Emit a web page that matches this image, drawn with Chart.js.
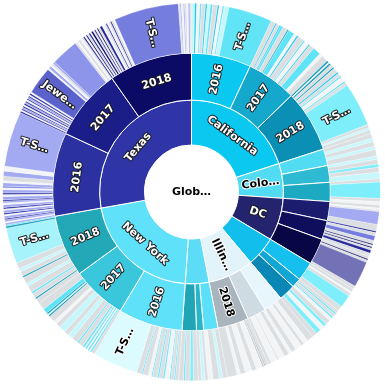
<!DOCTYPE html>
<html>
<head>
<meta charset="utf-8">
<script src="https://cdn.jsdelivr.net/npm/chart.js@4.4.0/dist/chart.umd.min.js"></script>
<style>
    html, body { margin: 0; padding: 0; background: #fff; }
    #wrap { width: 385px; height: 388px; }
</style>
</head>
<body>
<div id="wrap"><canvas id="sunburst"></canvas></div>
<script>
// Labels as they appear in the chart (long names are cut by the chart)
const rootName = 'Glob…';
const stateNames = ['California', 'Colo…', 'DC', '', 'Illin…', '', 'New York', 'Texas'];
const yearNames = ['2016', '2017', '2018'];

// Product sales per state, one list per year, clockwise from 12 o'clock
const californiaSales = [
    [1, 0.6, 1, 0.5, 1.2, 0.5, 1, 0.7, 1.5, 0.5, 1, 0.5, 1.5, 13.5],
    [1.5, 0.4, 1, 0.4, 0.8, 1.5, 0.4, 2, 1, 0.5, 2, 0.5, 1.5, 0.4, 1.5, 2.5, 1, 2.1],
    [0.6, 0.4, 0.6, 1, 0.5, 1.5, 0.5, 1, 0.5, 1.5, 0.5, 1, 13.5, 1, 0.7, 1.2]
];
const coloradoSales = [
    [1.5, 1, 1.5, 1, 2],
    [1, 1.5, 1, 1.5, 2],
    [1, 5, 1, 1]
];
const dcSales = [
    [1, 0.5, 0.5, 4, 2],
    [0.5, 1, 1.5, 1, 0.4, 0.6, 0.4, 0.6, 1, 1],
    [0.8, 0.4, 0.8, 8, 1]
];
const fourthStateSales = [
    [1, 0.5, 1, 4, 1.5],
    [1, 0.5, 1, 0.5, 1],
    [1.5, 1, 1.5, 1.5, 1.5]
];
const illinoisSales = [
    [2, 1.5, 1, 2, 1.5],
    [1, 1.5, 2, 0.5, 2, 1],
    [1, 0.3, 0.3, 0.3, 2, 1.5, 2, 1.6, 1, 3]
];
const sixthStateSales = [
    [1.5, 1, 2, 1.5],
    [1, 1, 1],
    [1.5, 1, 1.5, 0.5, 1.5]
];
const newYorkSales = [
    [1, 0.4, 1, 0.4, 1.5, 0.5, 1.2, 0.5, 1.5, 0.4, 1, 1.6, 0.4, 1.6, 14],
    [1, 0.5, 0.4, 0.5, 0.4, 0.5, 0.4, 0.6, 1.5, 0.5, 2, 1.5, 1.5, 2, 1.5, 1, 2, 0.5, 0.4, 0.5, 1.5, 2.3],
    [1.5, 0.5, 1.5, 0.6, 2, 1, 2, 0.5, 1.5, 1, 1.9, 11, 0.6, 0.4]
];
const texasSales = [
    [0.6, 0.4, 0.6, 0.4, 0.8, 0.4, 0.5, 0.8, 0.4, 0.5, 0.8, 0.5, 0.6, 0.4, 1, 0.6, 0.5, 1, 0.6, 0.5, 1, 0.6, 1.4, 1.6, 1.5, 17],
    [0.5, 0.4, 0.4, 0.5, 0.4, 0.4, 0.5, 0.4, 0.4, 0.5, 0.4, 0.5, 0.4, 0.4, 0.5, 0.5, 8.5, 0.5, 0.8, 0.5, 0.6, 0.6, 8.5, 0.6, 0.5, 0.8, 0.6, 0.5],
    [0.5, 0.5, 0.4, 0.6, 0.5, 0.4, 0.6, 0.5, 0.4, 0.5, 0.4, 0.6, 0.8, 0.7, 0.6, 0.4, 0.6, 0.5, 0.4, 0.6, 0.5, 20, 0.5, 0.4, 0.6, 0.4, 0.6, 0.5, 0.5, 0.5]
];
const salesByState = [californiaSales, coloradoSales, dcSales, fourthStateSales,
    illinoisSales, sixthStateSales, newYorkSales, texasSales];

// Named product slices: [state, year, product, label]
const productLabels = [
    [0, 0, 13, 'T-S…'],
    [0, 2, 12, 'T-S…'],
    [6, 0, 14, 'T-S…'],
    [6, 2, 11, 'T-S…'],
    [7, 0, 25, 'T-S…'],
    [7, 1, 16, 'Jewe…'],
    [7, 2, 21, 'T-S…']
];

// ---- styles ----
const stateColors = ['#0ac8f0', '#52dcf4', '#24246e', '#12bfec', '#e2f3fa', '#5cdcf6', '#5fe1fa', '#2f35a6'];
const yearColors = [
    ['#0ac8f0', '#13a8cc', '#0c8fb5'],
    ['#52dcf4', '#2dbad2', '#1da9c2'],
    ['#1c1c6e', '#0e0e5c', '#070746'],
    ['#15c0ee', '#11a6d6', '#0a87b4'],
    ['#e6f6fc', '#cfdbe2', '#a9b4bc'],
    ['#5cdff8', '#2ab6c8', '#1fa5b6'],
    ['#5fe1fa', '#3ac7dc', '#23a8b8'],
    ['#2b31a0', '#1b1d88', '#0b0b66']
];
const tones = {
    G: '#dcdfe2', W: '#f2f4f6', D: '#8f999f',
    L: '#a3aaf2', E: '#8d95ea', M: '#757ddd', J: '#5b62cb', V: '#7472b6', N: '#272b9c', K: '#0d0d62',
    C: '#5ee3f7', B: '#17c5ee', T: '#1a9fba', A: '#7eeefa', P: '#c6f7fc', Q: '#dcfbfe', R: '#a6f3fb', S: '#62e4f7'
};
const productTones = [
    ['PBWCGBPCGBWCPS', 'GBGBCGTCWBGCWBGCWG', 'TWTGTGBGCWCGAGPG'],
    ['GPGPG', 'PGAGP', 'GAGW'],
    ['GWGLG', 'NGMGKGKGNG', 'GKGVG'],
    ['GWGAG', 'GCGCW', 'GAWAG'],
    ['GWGWG', 'WGWGWG', 'GDGDWGWGWG'],
    ['GPGW', 'GPG', 'GAGCG'],
    ['GCGCWCGCGCWGCGQ', 'GCWCWCGCGCGPGPGWGTPTCG', 'GTGCGPGTGPGRTC'],
    ['LWLNLWNLWNLWLNLWNLWMLWGLWL', 'NWNLNWNLNWNLNWNWJWLWGLEGWGWG', 'NWKGNWKGNWKGNWGNWGNGWMGLWLGWLG']
];
// labels drawn dark with a light outline
const darkLabelKeys = ['Colo…', 'Illin…', 'Illin… 2018', 'New York 2016 T-S…'];

const sum = arr => arr.reduce((a, b) => a + b, 0);

// build the three rings
const productValues = [], productColors = [], productTexts = [], productKeys = [];
const yearValues = [], yearFill = [], yearTexts = [], yearKeys = [];
const stateValues = [], stateTexts = [], stateKeys = [];

salesByState.forEach((years, s) => {
    years.forEach((items, y) => {
        items.forEach((v, p) => {
            const label = productLabels.find(l => l[0] === s && l[1] === y && l[2] === p);
            const code = (productTones[s][y] || '')[p] || 'G';
            productValues.push(v);
            productColors.push(tones[code]);
            productTexts.push(label ? label[3] : '');
            productKeys.push(label ? stateNames[s] + ' ' + yearNames[y] + ' ' + label[3] : '');
        });
        yearValues.push(sum(items));
        yearFill.push(yearColors[s][y]);
        yearTexts.push(yearNames[y]);
        yearKeys.push(stateNames[s] + ' ' + yearNames[y]);
    });
    stateValues.push(sum(years.map(sum)));
    stateTexts.push(stateNames[s]);
    stateKeys.push(stateNames[s]);
});

function drawLabel(ctx, text, dark) {
    ctx.lineWidth = 2;
    ctx.strokeStyle = dark ? '#ffffff' : '#1a1a1a';
    ctx.fillStyle = dark ? '#000000' : '#ffffff';
    ctx.strokeText(text, 0, 0);
    ctx.fillText(text, 0, 0);
}

const sunburstLabels = {
    id: 'sunburstLabels',
    afterDatasetsDraw(chart) {
        const ctx = chart.ctx;
        ctx.save();
        ctx.font = 'bold 11px "DejaVu Sans"';
        ctx.textAlign = 'center';
        ctx.textBaseline = 'middle';
        ctx.lineJoin = 'round';
        let cx = 0, cy = 0;
        chart.data.datasets.forEach((ds, di) => {
            const meta = chart.getDatasetMeta(di);
            meta.data.forEach((arc, i) => {
                const p = arc.getProps(['x', 'y', 'startAngle', 'endAngle', 'innerRadius', 'outerRadius'], true);
                cx = p.x; cy = p.y;
                const text = ds.texts[i];
                if (!text) return;
                const span = p.endAngle - p.startAngle;
                const mid = (p.startAngle + p.endAngle) / 2;
                const r = (p.innerRadius + p.outerRadius) / 2;
                const thick = p.outerRadius - p.innerRadius;
                if (span * r < 23) return;
                // wide slices get text along the arc, narrow ones along the radius
                let rot = span * p.outerRadius > 1.5 * thick ? mid + Math.PI / 2 : mid;
                while (rot > Math.PI / 2) rot -= Math.PI;
                while (rot <= -Math.PI / 2) rot += Math.PI;
                ctx.save();
                ctx.translate(p.x + r * Math.cos(mid), p.y + r * Math.sin(mid));
                ctx.rotate(rot);
                drawLabel(ctx, text, darkLabelKeys.includes(ds.keys[i]));
                ctx.restore();
            });
        });
        ctx.translate(cx, cy);
        drawLabel(ctx, rootName, true);
        ctx.restore();
    }
};

new Chart(document.getElementById('sunburst'), {
    type: 'doughnut',
    data: {
        datasets: [
            { data: productValues, backgroundColor: productColors, borderColor: 'rgba(255,255,255,0.55)', borderWidth: 0.5,
              weight: 50, texts: productTexts, keys: productKeys },
            { data: yearValues, backgroundColor: yearFill, borderColor: '#ffffff', borderWidth: 1,
              weight: 47, texts: yearTexts, keys: yearKeys },
            { data: stateValues, backgroundColor: stateColors, borderColor: '#ffffff', borderWidth: 1,
              weight: 45, texts: stateTexts, keys: stateKeys }
        ]
    },
    options: {
        responsive: true,
        maintainAspectRatio: false,
        devicePixelRatio: 1,
        animation: false,
        events: [],
        cutout: 47,
        layout: { padding: { left: 2, right: 4, top: 3, bottom: 7 } },
        plugins: {
            legend: { display: false },
            tooltip: { enabled: false }
        }
    },
    plugins: [sunburstLabels]
});
</script>
</body>
</html>
